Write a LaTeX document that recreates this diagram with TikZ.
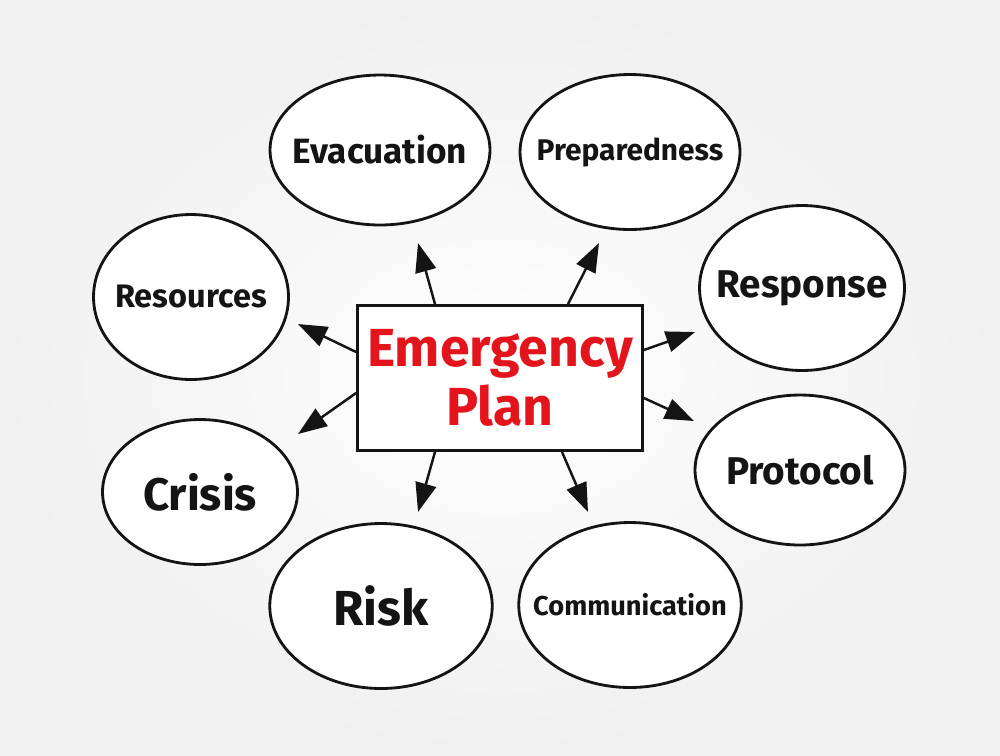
\documentclass[tikz,border=0pt]{standalone}
\usepackage{fontspec}
\setmainfont{Fira Sans}
\usetikzlibrary{arrows.meta,shapes.geometric,calc}
\definecolor{inkred}{HTML}{E3141B}
\definecolor{inkblack}{HTML}{141414}
\definecolor{paper}{HTML}{F0F0F0}
\tikzset{
  bubble/.style={
    ellipse,
    draw=inkblack,
    line width=1.6pt,
    fill=white,
    inner sep=0pt
  },
  word/.style={
    inner sep=0pt,
    text=inkblack,
    font=\bfseries
  },
  centerbox/.style={
    rectangle,
    draw=inkblack,
    line width=1.6pt,
    fill=white,
    minimum width=5.7cm,
    minimum height=2.9cm,
    align=center,
    text=inkred,
    font=\bfseries\fontsize{30.5}{34}\selectfont
  },
  spoke/.style={-{Triangle[length=5.8mm,width=4.2mm]}, line width=1.4pt, draw=inkblack}
}

\begin{document}
\begin{tikzpicture}[x=0.02cm, y=-0.02cm]
  % paper
  \shade[inner color=white, outer color=paper] (0,0) rectangle (1000,755);
  \useasboundingbox (0,0) rectangle (1000,755);

  % centre
  \node[centerbox] (plan) at (500,378) {Emergency\\Plan};

  % topics
  \node[bubble, minimum width=4.4cm, minimum height=3.0cm] (evac) at (380,150) {};
  \node[bubble, minimum width=4.4cm, minimum height=3.1cm] (prep) at (630,152) {};
  \node[bubble, minimum width=3.9cm, minimum height=3.3cm] (res) at (191,297) {};
  \node[bubble, minimum width=4.1cm, minimum height=3.3cm] (resp) at (802,288) {};
  \node[bubble, minimum width=3.9cm, minimum height=2.9cm] (crisis) at (200,492) {};
  \node[bubble, minimum width=4.2cm, minimum height=3.0cm] (proto) at (800,470) {};
  \node[bubble, minimum width=4.45cm, minimum height=3.3cm] (risk) at (381,606) {};
  \node[bubble, minimum width=4.45cm, minimum height=3.3cm] (comm) at (630,605) {};

  \node[word, font=\bfseries\fontsize{20}{24}\selectfont] at (evac) {Evacuation};
  \node[word, font=\bfseries\fontsize{17}{20}\selectfont] at (prep) {Preparedness};
  \node[word, font=\bfseries\fontsize{18.5}{22}\selectfont] at (res) {Resources};
  \node[word, font=\bfseries\fontsize{22}{26}\selectfont] at (resp) {Response};
  \node[word, font=\bfseries\fontsize{26}{30}\selectfont] at (crisis) {Crisis};
  \node[word, font=\bfseries\fontsize{22}{26}\selectfont] at (proto) {Protocol};
  \node[word, font=\bfseries\fontsize{28}{32}\selectfont] at (risk) {Risk};
  \node[word, font=\bfseries\fontsize{15.5}{18}\selectfont] at (comm) {Communication};

  % arrow tips
  \coordinate (tEvac) at (418,243);
  \coordinate (tPrep) at (599,243);
  \coordinate (tRes) at (298,324);
  \coordinate (tCrisis) at (298,434);
  \coordinate (tResp) at (695,332);
  \coordinate (tProto) at (694,421);
  \coordinate (tRisk) at (418,512);
  \coordinate (tComm) at (588,512);

  \draw[spoke] ($(plan.north)+(-65,0)$) -- (tEvac);
  \draw[spoke] ($(plan.north)+(68,0)$) -- (tPrep);
  \draw[spoke] ($(plan.west)+(0,-26)$) -- (tRes);
  \draw[spoke] ($(plan.west)+(0,15)$) -- (tCrisis);
  \draw[spoke] ($(plan.east)+(0,-28)$) -- (tResp);
  \draw[spoke] ($(plan.east)+(0,20)$) -- (tProto);
  \draw[spoke] ($(plan.south)+(-65,0)$) -- (tRisk);
  \draw[spoke] ($(plan.south)+(62,0)$) -- (tComm);
\end{tikzpicture}
\end{document}
